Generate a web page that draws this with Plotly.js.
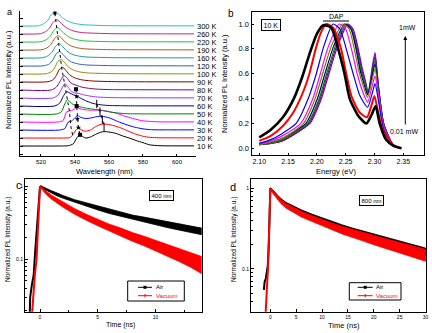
<!DOCTYPE html>
<html><head><meta charset="utf-8">
<script src="https://cdn.plot.ly/plotly-3.0.1.min.js"></script>
<style>html,body{margin:0;padding:0;background:#fff}#chart{width:432px;height:333px}</style>
</head><body><div id="chart"></div>
<script>
// ================= Panel a : temperature-dependent PL (stacked, normalized) =================
const aTemps = ['10 K','20 K','30 K','40 K','50 K','60 K','70 K','80 K','90 K','100 K','120 K','160 K','190 K','220 K','260 K','300 K'];
const a10x = [508,530,536,539,541,543,545,546.5,549,552,555,557,560,564,568,572,576,580,584,590,610];
const a10y = [0,0,0.02,0.15,0.55,0.78,0.62,0.55,0.62,0.8,0.95,1.0,0.97,0.88,0.7,0.55,0.38,0.23,0.08,0.02,0.01];
const a20x = [508,532,537,539,540.5,542,544,546,549,552,555.5,559,563,567,571,575,579,583,588,600,610];
const a20y = [0,0,0.03,0.25,0.55,0.7,0.55,0.47,0.55,0.78,0.95,0.95,0.85,0.7,0.5,0.3,0.15,0.06,0.02,0.01,0.01];
const a30x = [508,531,534,536,538,540,541.5,543,545,547,550,553,556,560,565,570,575,580,585,595,610];
const a30y = [0,0,0.1,0.55,0.62,0.85,1.0,0.9,0.82,0.8,0.85,0.93,0.95,0.85,0.6,0.38,0.2,0.08,0.02,0.01,0.01];
const a40x = [508,530,533,535,537,539,541,543,546,549,552,555,559,564,569,574,579,584,590,610];
const a40y = [0,0,0.1,0.7,0.78,0.85,1.0,0.92,0.85,0.82,0.82,0.82,0.75,0.62,0.42,0.25,0.1,0.04,0.01,0.01];
const a50x = [508,529,532,534,535.5,537,539,541,543,546,549,553,557,561,566,571,580,610];
const a50y = [0,0,0.15,0.7,1.0,0.85,0.65,0.58,0.5,0.42,0.36,0.3,0.22,0.13,0.06,0.02,0.01,0.01];
const a60x = [508,528,531,533,535,537,539,541,544,547,550,553,557,561,566,575,610];
const a60y = [0,0,0.2,0.65,1.0,0.9,0.78,0.7,0.5,0.33,0.2,0.12,0.06,0.03,0.02,0.01,0.01];
const a70x = [508,527,530,532,534,536,538,540,542,545,548,552,558,565,610];
const a70y = [0,0,0.2,0.6,1.0,0.75,0.45,0.35,0.32,0.22,0.15,0.08,0.04,0.02,0.01];
const a80x = [508,526,529,531,533.5,535.5,537.5,539.5,541.5,544,548,553,560,570,610];
const a80y = [0,0,0.2,0.55,1.0,0.8,0.5,0.38,0.3,0.2,0.12,0.06,0.03,0.02,0.01];
const a90x = [508,524,527,529,531,533,535,537,540,544,549,557,567,610];
const a90y = [0,0.02,0.15,0.45,0.9,1,0.75,0.48,0.28,0.15,0.08,0.04,0.02,0.01];
const a100x = [508,523,526,528,530,532,534,536,539,543,548,556,566,610];
const a100y = [0,0.02,0.15,0.42,0.88,1,0.78,0.5,0.28,0.14,0.07,0.04,0.02,0.01];
const a120x = [508,522,525,527,529,531,533,535,538,542,547,555,565,610];
const a120y = [0,0.02,0.15,0.42,0.85,1,0.8,0.52,0.28,0.14,0.07,0.04,0.02,0.01];
const a160x = [508,521,524,526.5,528.5,530.5,532.5,534.5,537.5,541.5,546.5,554.5,564.5,610];
const a160y = [0,0.02,0.15,0.4,0.8,1,0.83,0.56,0.3,0.15,0.07,0.04,0.02,0.01];
const a190x = [508,520.5,523.5,526,528,530,532,534,537,541,546,554,564,610];
const a190y = [0,0.02,0.15,0.4,0.8,1,0.84,0.58,0.32,0.16,0.08,0.04,0.02,0.01];
const a220x = [508,520,523,525.5,527.5,529.5,531.5,533.5,536.5,540.5,545.5,553.5,563.5,610];
const a220y = [0,0.02,0.15,0.4,0.8,1,0.85,0.6,0.34,0.17,0.08,0.04,0.02,0.01];
const a260x = [508,519.5,522.5,525,527,529,531,533,536,540,545,553,563,610];
const a260y = [0,0.02,0.15,0.4,0.8,1,0.86,0.62,0.36,0.18,0.09,0.05,0.02,0.01];
const a300x = [508,518.5,521.5,524,526,528.2,530,532,535,539,544,552,562,610];
const a300y = [0,0.02,0.15,0.4,0.8,1,0.87,0.65,0.38,0.2,0.1,0.05,0.02,0.01];
// peak-tracking guides (wavelength, stacked level)
const trackMainWl  = [528.2,529.2,529.8,530.4,530.8,531.4,532.2,533.1,534.1,535.1,536.1,536.6,537.1,537.6,538.6];
const trackMainLvl = [16.6,14.9,13.9,12.8,11.8,10.75,9.7,8.7,7.6,6.6,5.5,4.5,3.5,2.4,1.4];
const trackSharpWl  = [540.6,541,541,541.4,542,543];
const trackSharpLvl = [7.1,6.2,5.0,3.4,2.3,1.4];
const trackBroadWl  = [552.8,554.7,556.1,557.1];
const trackBroadLvl = [5.25,4.3,3.3,2.4];

// ================= Panel b : power-dependent PL at 10 K =================
const b1x = [2.100,2.12,2.141,2.16,2.175,2.188,2.200,2.211,2.225,2.237,2.248,2.257,2.272,2.286,2.295,2.302,2.309,2.32,2.333,2.347];
const b1y = [0.088,0.15,0.25,0.4,0.58,0.77,0.92,0.99,0.97,0.8,0.6,0.4,0.26,0.2,0.27,0.34,0.2,0.07,0.02,0.0];
const b2x = [2.100,2.12,2.141,2.158,2.175,2.187,2.198,2.207,2.216,2.228,2.242,2.251,2.26,2.274,2.287,2.295,2.300,2.306,2.315,2.332,2.345];
const b2y = [0.06,0.1,0.18,0.28,0.44,0.6,0.8,0.93,1.0,0.97,0.8,0.6,0.42,0.29,0.25,0.35,0.42,0.3,0.14,0.03,0.0];
const b3x = [2.100,2.12,2.14,2.164,2.185,2.199,2.212,2.228,2.24,2.251,2.263,2.275,2.288,2.296,2.301,2.307,2.316,2.332,2.345];
const b3y = [0.04,0.07,0.12,0.2,0.4,0.6,0.82,1.0,0.96,0.8,0.6,0.42,0.33,0.44,0.52,0.38,0.15,0.03,0.0];
const b4x = [2.100,2.12,2.14,2.172,2.193,2.206,2.22,2.239,2.25,2.26,2.27,2.28,2.288,2.296,2.301,2.307,2.316,2.332,2.345];
const b4y = [0.04,0.06,0.1,0.2,0.4,0.6,0.82,1.0,0.96,0.8,0.6,0.45,0.37,0.5,0.58,0.42,0.17,0.03,0.0];
const b5x = [2.100,2.12,2.14,2.177,2.197,2.21,2.225,2.245,2.256,2.265,2.273,2.282,2.288,2.296,2.301,2.307,2.316,2.332,2.345];
const b5y = [0.03,0.05,0.08,0.2,0.4,0.6,0.82,1.0,0.96,0.8,0.62,0.48,0.41,0.55,0.64,0.45,0.18,0.03,0.0];
const b6x = [2.100,2.12,2.14,2.181,2.201,2.214,2.229,2.248,2.259,2.268,2.275,2.283,2.288,2.296,2.301,2.307,2.316,2.332,2.345];
const b6y = [0.03,0.05,0.08,0.2,0.4,0.6,0.82,1.0,0.96,0.8,0.63,0.5,0.43,0.58,0.68,0.47,0.19,0.03,0.0];
const b7x = [2.100,2.12,2.14,2.184,2.204,2.217,2.232,2.25,2.26,2.269,2.276,2.284,2.289,2.296,2.301,2.307,2.316,2.332,2.345];
const b7y = [0.03,0.04,0.07,0.2,0.4,0.6,0.82,1.0,0.96,0.8,0.64,0.52,0.44,0.6,0.71,0.48,0.19,0.03,0.0];
const b8x = [2.100,2.12,2.14,2.186,2.206,2.219,2.234,2.252,2.261,2.27,2.277,2.284,2.289,2.296,2.301,2.307,2.316,2.332,2.345];
const b8y = [0.03,0.04,0.06,0.2,0.4,0.6,0.82,1.0,0.96,0.81,0.65,0.52,0.44,0.62,0.74,0.49,0.2,0.03,0.0];
const b9x = [2.100,2.12,2.14,2.188,2.208,2.221,2.236,2.254,2.263,2.271,2.278,2.285,2.289,2.296,2.301,2.307,2.316,2.332,2.345];
const b9y = [0.03,0.04,0.06,0.2,0.4,0.6,0.82,1.0,0.96,0.82,0.66,0.53,0.45,0.65,0.77,0.5,0.2,0.03,0.0];

// ================= Panel c : decay, 400 nm excitation =================
const cT      = [0,0.5,1,1.5,2,3,4,5,6,7,8,9,10,11,12,13,14];
const cAirHi  = [1.02,0.93,0.86,0.8,0.74,0.65,0.59,0.53,0.48,0.44,0.4,0.375,0.35,0.32,0.3,0.28,0.265];
const cAirLo  = [0.97,0.87,0.8,0.73,0.68,0.59,0.53,0.47,0.42,0.38,0.345,0.32,0.295,0.27,0.25,0.23,0.215];
const cVacHi  = [1.02,0.86,0.75,0.67,0.6,0.49,0.41,0.35,0.3,0.265,0.23,0.205,0.18,0.16,0.14,0.122,0.108];
const cVacLo  = [0.97,0.78,0.66,0.58,0.51,0.41,0.34,0.285,0.24,0.205,0.175,0.152,0.13,0.11,0.093,0.078,0.063];
const cAirRiseT = [-0.9,-0.85,-0.7,-0.55,-0.43,-0.3,-0.15,0];
const cAirRise  = [0.015,0.03,0.045,0.06,0.12,0.25,0.55,1];
const cVacRiseT = [-0.72,-0.6,-0.45,-0.3,-0.2,-0.1,0];
const cVacRise  = [0.015,0.03,0.06,0.1,0.25,0.55,1];

// ================= Panel d : decay, 800 nm excitation =================
const dT      = [0,0.5,1,1.5,2,3,4,5,6,8,10,12,14,16,18,20,22,24,26,28,30];
const dAirHi  = [1.02,0.96,0.88,0.81,0.75,0.67,0.62,0.58,0.54,0.48,0.43,0.385,0.35,0.32,0.295,0.275,0.25,0.232,0.214,0.196,0.182];
const dAirLo  = [0.97,0.9,0.82,0.75,0.68,0.6,0.55,0.51,0.47,0.42,0.375,0.33,0.295,0.272,0.25,0.23,0.21,0.192,0.175,0.158,0.145];
const dVacHi  = [1.02,0.94,0.86,0.79,0.73,0.65,0.6,0.56,0.52,0.46,0.41,0.37,0.335,0.31,0.285,0.262,0.24,0.222,0.205,0.188,0.175];
const dVacLo  = [0.96,0.86,0.78,0.71,0.65,0.57,0.52,0.48,0.44,0.39,0.345,0.305,0.27,0.245,0.222,0.2,0.183,0.165,0.15,0.137,0.125];
const dAirRiseT = [-1.25,-1.1,-0.9,-0.7,-0.5,-0.3,-0.15,0];
const dAirRise  = [0.055,0.07,0.075,0.09,0.11,0.2,0.45,1];
const dVacRiseT = [-0.95,-0.8,-0.6,-0.45,-0.3,-0.15,0];
const dVacRise  = [0.025,0.045,0.07,0.1,0.18,0.45,1];

// ================= build =================
const W = 432, H = 333;
const PX = x => x / W, PY = y => 1 - y / H;
const traces = [];

const aX = [a10x,a20x,a30x,a40x,a50x,a60x,a70x,a80x,a90x,a100x,a120x,a160x,a190x,a220x,a260x,a300x];
const aY = [a10y,a20y,a30y,a40y,a50y,a60y,a70y,a80y,a90y,a100y,a120y,a160y,a190y,a220y,a260y,a300y];
const aColors = ['#000000','#ff0000','#0000ff','#ff00ff','#008000','#000080','#9933ff','#800080',
                 '#800000','#909000','#2a64b0','#1f9a9a','#a0601a','#22c040','#c0287a','#22c0c8'];
const aScale = 1.8;
aX.forEach((xs, i) => {
  traces.push({x: xs, y: aY[i].map(v => i + aScale * v), xaxis: 'x', yaxis: 'y', mode: 'lines',
    line: {color: aColors[i], width: 1, shape: 'spline', smoothing: 0.7}, hoverinfo: 'skip'});
});
traces.push({x: trackMainWl, y: trackMainLvl, xaxis: 'x', yaxis: 'y', mode: 'lines',
  line: {color: '#000', width: 1, dash: 'dot'}, hoverinfo: 'skip'});
traces.push({x: [trackMainWl[0]], y: [trackMainLvl[0]], xaxis: 'x', yaxis: 'y', mode: 'markers',
  marker: {symbol: 'square', size: 3, color: '#000'}, hoverinfo: 'skip'});
traces.push({x: trackSharpWl, y: trackSharpLvl, xaxis: 'x', yaxis: 'y', mode: 'lines+markers',
  line: {color: '#000', width: 1, dash: 'dot'},
  marker: {symbol: ['square','star','square','star','star','square'], size: 4, color: '#000'}, hoverinfo: 'skip'});
traces.push({x: trackBroadWl, y: trackBroadLvl, xaxis: 'x', yaxis: 'y', mode: 'lines+markers',
  line: {color: '#000', width: 1, dash: 'dot'},
  marker: {symbol: 'line-ns-open', size: 6, color: '#000', line: {width: 1, color: '#000'}}, hoverinfo: 'skip'});

const bX = [b9x,b8x,b7x,b6x,b5x,b4x,b3x,b2x,b1x];
const bY = [b9y,b8y,b7y,b6y,b5y,b4y,b3y,b2y,b1y];
const bColors = ['#8000c0','#800080','#008000','#000080','#808000','#ff00ff','#0000ff','#ff0000','#000000'];
const bWidths = [1.2,1.2,1.2,1.2,1.2,1.2,1.2,2,2.6];
bX.forEach((xs, i) => {
  traces.push({x: xs, y: bY[i], xaxis: 'x2', yaxis: 'y2', mode: 'lines',
    line: {color: bColors[i], width: bWidths[i], shape: 'spline', smoothing: 0.6}, hoverinfo: 'skip'});
});

function band(t, hi, lo, color, xa, ya) {
  return {x: t.concat(t.slice().reverse()), y: hi.concat(lo.slice().reverse()), xaxis: xa, yaxis: ya,
    mode: 'lines', fill: 'toself', fillcolor: color, line: {color: color, width: 0.8}, hoverinfo: 'skip'};
}
traces.push(band(cT, cAirHi, cAirLo, '#000000', 'x3', 'y3'));
traces.push({x: cAirRiseT, y: cAirRise, xaxis: 'x3', yaxis: 'y3', mode: 'lines', line: {color: '#000', width: 2}, hoverinfo: 'skip'});
traces.push(band(cT, cVacHi, cVacLo, '#ff0000', 'x3', 'y3'));
traces.push({x: cVacRiseT, y: cVacRise, xaxis: 'x3', yaxis: 'y3', mode: 'lines', line: {color: '#ff0000', width: 2}, hoverinfo: 'skip'});

traces.push(band(dT, dAirHi, dAirLo, '#000000', 'x4', 'y4'));
traces.push({x: dAirRiseT, y: dAirRise, xaxis: 'x4', yaxis: 'y4', mode: 'lines', line: {color: '#000', width: 2}, hoverinfo: 'skip'});
traces.push(band(dT, dVacHi, dVacLo, '#ff0000', 'x4', 'y4'));
traces.push({x: dVacRiseT, y: dVacRise, xaxis: 'x4', yaxis: 'y4', mode: 'lines', line: {color: '#ff0000', width: 2}, hoverinfo: 'skip'});

// ---------- annotations ----------
const FONT = 'Arial, "Liberation Sans", sans-serif';
function ann(text, x, y, size, extra) {
  return Object.assign({text: text, xref: 'paper', yref: 'paper', x: PX(x), y: PY(y), showarrow: false,
    xanchor: 'center', yanchor: 'middle', font: {family: FONT, size: size, color: '#000'}}, extra || {});
}
const annotations = [];
aTemps.forEach((t, i) => annotations.push({text: t, xref: 'paper', yref: 'y', x: PX(195), y: i, xanchor: 'left',
  yanchor: 'middle', showarrow: false, font: {family: FONT, size: 7.5, color: '#000'}}));
annotations.push(ann('a', 9, 12, 9));
annotations.push(ann('b', 231, 13, 10));
annotations.push(ann('c', 19, 185, 11));
annotations.push(ann('d', 233, 187, 11));
annotations.push(ann('Wavelength (nm)', 104, 171, 7.5));
annotations.push(ann('Normalized PL Intensity (a.u.)', 8, 80, 7.5, {textangle: -90}));
annotations.push(ann('Energy (eV)', 336, 171, 7.5));
annotations.push(ann('Normalized PL Intensity (a.u.)', 225, 84, 7.5, {textangle: -90}));
annotations.push(ann('10 K', 270.5, 24.7, 7, {bordercolor: '#000', borderwidth: 1, borderpad: 1.5, bgcolor: '#fff'}));
annotations.push(ann('DAP', 336, 16, 7));
annotations.push(ann('1mW', 407, 28, 7));
annotations.push(ann('0.01 mW', 404, 132, 7));
annotations.push({text: '', xref: 'paper', yref: 'paper', x: PX(405.3), y: PY(36), ax: 0, ay: 90,
  showarrow: true, arrowhead: 2, arrowsize: 0.8, arrowwidth: 1, arrowcolor: '#000'});
annotations.push(ann('400 nm', 161, 196, 6, {bordercolor: '#000', borderwidth: 1, borderpad: 1.5, bgcolor: '#fff'}));
annotations.push(ann('800 nm', 371, 200, 6, {bordercolor: '#000', borderwidth: 1, borderpad: 1.5, bgcolor: '#fff'}));
annotations.push(ann('Time (ns)', 120, 325, 7));
annotations.push(ann('Time (ns)', 344, 325.5, 7.5));
annotations.push(ann('Normalized PL Intensity (a.u.)', 8, 240, 6.5, {textangle: -90}));
annotations.push(ann('Normalized PL Intensity (a.u.)', 234, 239, 6.5, {textangle: -90}));
annotations.push(ann('Air', 154, 287.3, 6, {xanchor: 'left'}));
annotations.push(ann('Vacuum', 154, 295.7, 6, {xanchor: 'left', font: {family: FONT, size: 6, color: '#ff0000'}}));
annotations.push(ann('Air', 374, 287.3, 6, {xanchor: 'left'}));
annotations.push(ann('Vacuum', 374, 295.7, 6, {xanchor: 'left', font: {family: FONT, size: 6, color: '#ff0000'}}));

// ---------- shapes ----------
function rect(x0, y0, x1, y1, extra) {
  return Object.assign({type: 'rect', xref: 'paper', yref: 'paper', x0: PX(x0), x1: PX(x1), y0: PY(y1), y1: PY(y0),
    line: {color: '#000', width: 1}}, extra || {});
}
function seg(x0, y0, x1, y1, color, w) {
  return {type: 'line', xref: 'paper', yref: 'paper', x0: PX(x0), x1: PX(x1), y0: PY(y0), y1: PY(y1),
    line: {color: color, width: w}};
}
const shapes = [
  seg(323, 21, 349, 21, '#000', 1),
  rect(127.7, 281, 184.3, 301),
  seg(138, 287.3, 152, 287.3, '#000', 1),
  rect(143.5, 285.8, 146.5, 288.8, {fillcolor: '#000', line: {color: '#000', width: 0}}),
  seg(138, 295.7, 152, 295.7, '#ff0000', 1),
  seg(145, 294, 145, 297.4, '#ff0000', 1),
  rect(349.3, 282.7, 401, 300),
  seg(357.7, 287.3, 372.7, 287.3, '#000', 1),
  rect(363.7, 285.8, 366.7, 288.8, {fillcolor: '#000', line: {color: '#000', width: 0}}),
  seg(357.7, 295.7, 372.7, 295.7, '#ff0000', 1),
  seg(365.2, 294, 365.2, 297.4, '#ff0000', 1)
];

const ax = {showgrid: false, zeroline: false, showline: true, linecolor: '#000', linewidth: 1,
  tickcolor: '#000', tickfont: {family: FONT, size: 7, color: '#000'}};
const logMinor = [0.02,0.03,0.04,0.05,0.06,0.07,0.08,0.09,0.2,0.3,0.4,0.5,0.6,0.7,0.8,0.9];
const layout = {
  width: W, height: H, margin: {l: 0, r: 0, t: 0, b: 0}, paper_bgcolor: '#fff', plot_bgcolor: 'rgba(0,0,0,0)',
  showlegend: false, font: {family: FONT, size: 7, color: '#000'},
  xaxis: Object.assign({}, ax, {domain: [PX(20), PX(196)], range: [507.65, 611.2], anchor: 'y',
    tickvals: [520,540,560,580,600], ticks: 'inside', ticklen: 2, tickfont: {family: FONT, size: 6}}),
  yaxis: Object.assign({}, ax, {domain: [PY(156), PY(11)], range: [-1.25, 16.875], anchor: 'x',
    ticks: 'inside', ticklen: 3, dtick: 1, tick0: 0, showticklabels: false}),
  xaxis2: Object.assign({}, ax, {domain: [PX(251.5), PX(424)], range: [2.0865, 2.386], anchor: 'y2', mirror: true,
    tickvals: [2.10,2.15,2.20,2.25,2.30,2.35], ticktext: ['2.10','2.15','2.20','2.25','2.30','2.35'],
    ticks: 'inside', ticklen: 2, tickfont: {family: FONT, size: 7}}),
  yaxis2: Object.assign({}, ax, {domain: [PY(155), PY(12)], range: [-0.0539, 1.0966], anchor: 'x2', mirror: true,
    tickvals: [0,0.2,0.4,0.6,0.8,1.0], ticktext: ['0.0','0.2','0.4','0.6','0.8','1.0'],
    ticks: 'inside', ticklen: 2, tickfont: {family: FONT, size: 7.5}}),
  xaxis3: Object.assign({}, ax, {domain: [PX(25), PX(201.7)], range: [-1.3, 14.0], anchor: 'y3', mirror: true,
    tickvals: [0,5,10], ticks: 'inside', ticklen: 3, tickfont: {family: FONT, size: 5},
    minor: {tickvals: [2.5,7.5,12.5], ticks: 'inside', ticklen: 2, tickcolor: '#000'}}),
  yaxis3: Object.assign({}, ax, {type: 'log', domain: [PY(311.7), PY(179.3)], range: [-1.722, 0.092], anchor: 'x3', mirror: true,
    tickvals: [0.1, 1], ticktext: ['0.1','1'], ticks: 'inside', ticklen: 3, tickfont: {family: FONT, size: 5},
    minor: {tickvals: logMinor, ticks: 'inside', ticklen: 2, tickcolor: '#000'}}),
  xaxis4: Object.assign({}, ax, {domain: [PX(251), PX(426)], range: [-3.74, 30.1], anchor: 'y4', mirror: true,
    tickvals: [0,5,10,15,20,25,30], ticks: 'inside', ticklen: 3, tickfont: {family: FONT, size: 5}}),
  yaxis4: Object.assign({}, ax, {type: 'log', domain: [PY(311.7), PY(179.3)], range: [-1.529, 0.111], anchor: 'x4', mirror: true,
    tickvals: [0.1, 1], ticktext: ['0.1','1'], ticks: 'inside', ticklen: 3, tickfont: {family: FONT, size: 5},
    minor: {tickvals: logMinor, ticks: 'inside', ticklen: 2, tickcolor: '#000'}}),
  annotations: annotations,
  shapes: shapes
};
Plotly.newPlot('chart', traces, layout, {staticPlot: true, displayModeBar: false});
</script>
</body></html>
